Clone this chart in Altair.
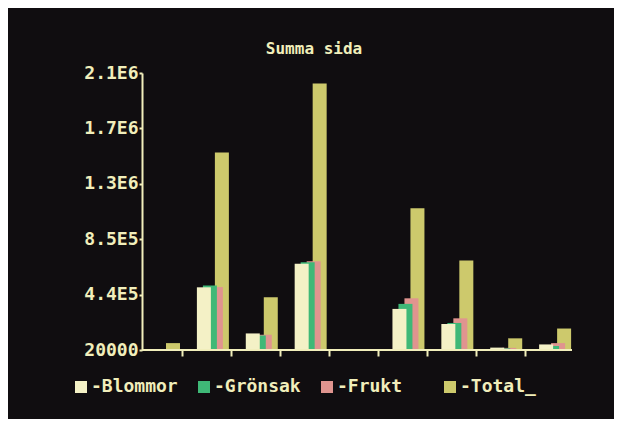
import altair as alt
import pandas as pd

# ---- data ----
kategorier = ["1", "2", "3", "4", "5", "6", "7", "8", "9"]
serier = ["Blommor", "Grönsak", "Frukt", "Total"]
blommor = [22000, 493000, 145000, 670000, 0, 330000, 216000, 38000, 62000]
gronsak = [21000, 506000, 130000, 682000, 0, 368000, 224000, 32000, 50000]
frukt = [24000, 495000, 136000, 690000, 0, 410000, 259000, 36000, 72000]
total = [72000, 1510000, 418000, 2030000, 0, 1090000, 695000, 108000, 182000]
y_tick_values = [20000, 438000, 856000, 1274000, 1692000, 2110000]
y_tick_labels = ["20000", "4.4E5", "8.5E5", "1.3E6", "1.7E6", "2.1E6"]
titel = "Summa sida"

# ---- styling ----
bg = "#100d10"
fg = "#f1eebb"
farger = ["#f4f1c6", "#3fb877", "#e0948f", "#cdc96c"]
font = "DejaVu Sans Mono"

values_by_series = {"Blommor": blommor, "Grönsak": gronsak, "Frukt": frukt, "Total": total}
rows = []
# draw order: Total at the back, Blommor in front
for s in reversed(serier):
    for k, v in zip(kategorier, values_by_series[s]):
        rows.append({"kategori": k, "serie": s, "värde": v})
df = pd.DataFrame(rows)

label_expr = ""
for v, l in zip(y_tick_values, y_tick_labels):
    label_expr += f"datum.value == {v} ? '{l}' : "
label_expr += "''"

bars = alt.Chart(df).mark_bar(size=14).encode(
    x=alt.X(
        "kategori:N",
        scale=alt.Scale(domain=kategorier, paddingInner=0, paddingOuter=0),
        axis=alt.Axis(
            values=kategorier[1:], bandPosition=0, labels=False, domain=False,
            ticks=True, tickSize=6, tickWidth=2, tickColor=fg, title=None, grid=False,
        ),
    ),
    xOffset=alt.XOffset(
        "serie:N",
        scale=alt.Scale(domain=serier, paddingInner=0, paddingOuter=0, range=[18, 42]),
    ),
    y=alt.Y(
        "värde:Q",
        stack=None,
        scale=alt.Scale(domain=[20000, 2110000], clamp=True, nice=False, zero=False),
        axis=alt.Axis(
            values=y_tick_values, labelExpr=label_expr, title=None, grid=False,
            offset=-8, domainColor=fg, domainWidth=2, tickColor=fg, tickSize=3,
            tickWidth=2, labelPadding=1, labelColor=fg, labelFont=font,
            labelFontSize=18, labelFontWeight="bold",
        ),
    ),
    color=alt.Color(
        "serie:N",
        scale=alt.Scale(domain=serier, range=farger),
        legend=alt.Legend(
            title=None, orient="none", legendX=-62, legendY=305,
            direction="horizontal", symbolType="square", symbolSize=144,
            symbolStrokeWidth=0, symbolOpacity=1, labelOffset=1,
            labelFont=font, labelFontSize=18, labelFontWeight="bold",
            labelColor=fg, gridAlign="all", columnPadding=17,
            labelExpr="'-' + datum.label + (datum.label == 'Total' ? '_' : '')",
        ),
    ),
)

axis_line = alt.Chart(pd.DataFrame({"a": [0]})).mark_rule(
    color=fg, strokeWidth=2
).encode(y=alt.datum(20000), x=alt.value(8), x2=alt.value(438))

chart = alt.layer(bars, axis_line).properties(
    width=440,
    height=277,
    autosize=alt.AutoSizeParams(type="none"),
    padding={"left": 126, "top": 65, "right": 40, "bottom": 69},
    background=bg,
    title=alt.TitleParams(
        titel, font=font, fontSize=16, fontWeight="bold", color=fg,
        anchor="middle", dx=-40, offset=7,
    ),
).configure_view(stroke=None)

chart.save("out.html", embed_options={"renderer": "svg", "actions": False})
